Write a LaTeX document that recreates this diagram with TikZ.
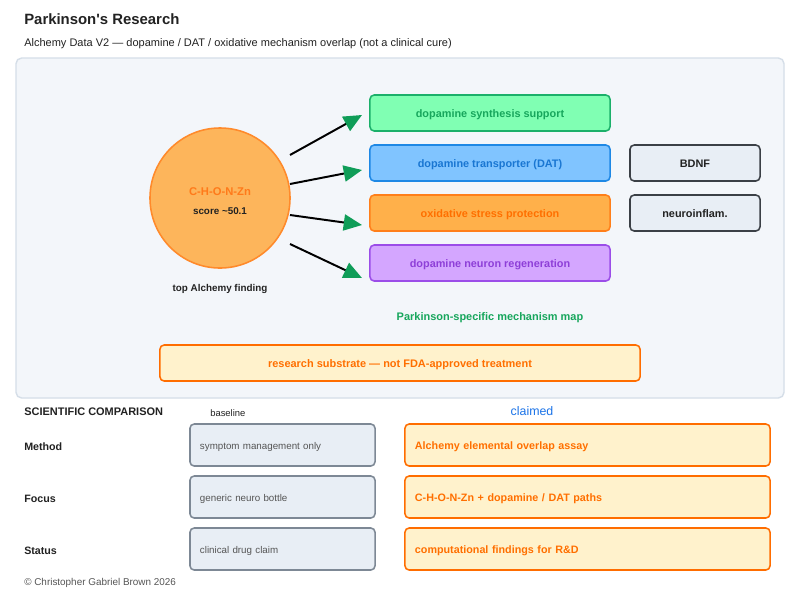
\documentclass[tikz,border=0pt]{standalone}
\usepackage{fontspec}
\setmainfont{Liberation Sans}
\usetikzlibrary{arrows.meta}

\definecolor{panelfill}{HTML}{F3F6FA}
\definecolor{paneldraw}{HTML}{D5DEE8}
\definecolor{corefill}{HTML}{FDB55B}
\definecolor{coredraw}{HTML}{FF8A2B}
\definecolor{coretext}{HTML}{FF7A1A}
\definecolor{synfill}{HTML}{80FFB3}
\definecolor{syndraw}{HTML}{1BB06A}
\definecolor{syntext}{HTML}{17A65C}
\definecolor{datfill}{HTML}{80C4FF}
\definecolor{datdraw}{HTML}{1E88E5}
\definecolor{dattext}{HTML}{1976D2}
\definecolor{oxyfill}{HTML}{FFB04A}
\definecolor{oxydraw}{HTML}{FF7F1A}
\definecolor{oxytext}{HTML}{FF6F00}
\definecolor{regfill}{HTML}{D4A6FF}
\definecolor{regdraw}{HTML}{9B4DE8}
\definecolor{regtext}{HTML}{8E3FD8}
\definecolor{sidefill}{HTML}{E8EEF5}
\definecolor{sidedraw}{HTML}{3B4046}
\definecolor{darktext}{HTML}{222222}
\definecolor{basedraw}{HTML}{7D8895}
\definecolor{basetext}{HTML}{555555}
\definecolor{warnfill}{HTML}{FFF2CC}
\definecolor{warndraw}{HTML}{FF6D00}
\definecolor{claimblue}{HTML}{1A73E8}
\definecolor{arrowgreen}{HTML}{0F9D58}

\begin{document}
\begin{tikzpicture}[x=0.025cm, y=-0.025cm,
    every node/.style={font=\fontsize{7.5}{9}\selectfont, text=darktext, text height=8pt, text depth=2pt},
    mech/.style={draw, rounded corners=3pt, line width=1.1pt, minimum width=6cm,
      minimum height=0.9cm, font=\fontsize{7.75}{9}\selectfont\bfseries},
    sidebox/.style={mech, draw=sidedraw, fill=sidefill, text=darktext, minimum width=3.25cm},
    basebox/.style={draw=basedraw, fill=sidefill, rounded corners=3pt, line width=1.1pt,
      minimum height=1.05cm, text width=4.125cm, inner xsep=0.25cm, align=left,
      text=basetext, font=\fontsize{6.95}{8}\selectfont},
    claimbox/.style={draw=warndraw, fill=warnfill, rounded corners=3pt, line width=1.1pt,
      minimum height=1.05cm, text width=8.625cm, inner xsep=0.25cm, align=left,
      text=oxytext, font=\fontsize{7.65}{9}\selectfont\bfseries},
    rowlabel/.style={anchor=west, inner sep=0pt, font=\fontsize{7.6}{9}\selectfont\bfseries},
    link/.style={line width=1.4pt, -{Triangle[length=13pt, width=11.5pt, color=arrowgreen]}}]
    % page and panel
    \fill[white] (0,0) rectangle (800,600);
    \draw[fill=panelfill, draw=paneldraw, line width=1pt, rounded corners=4pt] (16,58) rectangle (784,398);
    \node[anchor=west, inner sep=0pt, font=\fontsize{10.6}{12}\selectfont\bfseries] (title) at (24,20.5) {Parkinson\textquotesingle s Research};
    \node[anchor=west, inner sep=0pt, font=\fontsize{7.83}{9}\selectfont] (subtitle) at (24,42) {Alchemy Data V2 — dopamine / DAT / oxidative mechanism overlap (not a clinical cure)};

    % core finding
    \node[circle, draw=coredraw, fill=corefill, line width=1.1pt, minimum size=3.5cm] (core) at (220,198) {};
    \node[text=coretext, font=\fontsize{8}{9}\selectfont\bfseries] (coreel) at (220,191) {C-H-O-N-Zn};
    \node[font=\fontsize{7}{8}\selectfont\bfseries] (score) at (220,210.5) {score \textasciitilde50.1};
    \node[font=\fontsize{7}{8}\selectfont\bfseries] (toplab) at (220,287) {top Alchemy finding};

    % mechanisms
    \node[mech, draw=syndraw, fill=synfill, text=syntext] (syn) at (490,113) {dopamine synthesis support};
    \node[mech, draw=datdraw, fill=datfill, text=dattext] (dat) at (490,163) {dopamine transporter (DAT)};
    \node[mech, draw=oxydraw, fill=oxyfill, text=oxytext] (oxy) at (490,213) {oxidative stress protection};
    \node[mech, draw=regdraw, fill=regfill, text=regtext] (reg) at (490,263) {dopamine neuron regeneration};
    \node[sidebox] (bdnf) at (695,163) {BDNF};
    \node[sidebox] (inflam) at (695,213) {neuroinflam.};

    \coordinate (s1) at (290,155); \coordinate (t1) at (362,115);
    \coordinate (s2) at (290,184); \coordinate (t2) at (362,170);
    \coordinate (s3) at (290,215); \coordinate (t3) at (362,225);
    \coordinate (s4) at (290,244); \coordinate (t4) at (362,278);
    \draw[link] (s1) -- (t1);
    \draw[link] (s2) -- (t2);
    \draw[link] (s3) -- (t3);
    \draw[link] (s4) -- (t4);

    \node[text=syntext, font=\fontsize{7.8}{9}\selectfont\bfseries] (maplab) at (490,316) {Parkinson-specific mechanism map};
    \node[draw=warndraw, fill=warnfill, rounded corners=3pt, line width=1.1pt, minimum width=12cm,
      minimum height=0.9cm, text=oxytext, font=\fontsize{7.8}{9}\selectfont\bfseries] (note) at (400,363)
      {research substrate — not FDA-approved treatment};

    % comparison table
    \node[rowlabel, font=\fontsize{7.8}{9}\selectfont\bfseries] (cmp) at (24,411) {SCIENTIFIC COMPARISON};
    \node[anchor=west, inner sep=0pt, font=\fontsize{6.7}{8}\selectfont] (basehead) at (210,412) {baseline};
    \node[text=claimblue, font=\fontsize{8.8}{10}\selectfont] (claimhead) at (532,411) {claimed};

    \node[rowlabel] (method) at (24,446) {Method};
    \node[rowlabel] (focus) at (24,498) {Focus};
    \node[rowlabel] (status) at (24,550) {Status};

    \node[basebox] (b1) at (282.5,445) {symptom management only};
    \node[basebox] (b2) at (282.5,497) {generic neuro bottle};
    \node[basebox] (b3) at (282.5,549) {clinical drug claim};

    \node[claimbox] (c1) at (587.5,445) {Alchemy elemental overlap assay};
    \node[claimbox] (c2) at (587.5,497) {C-H-O-N-Zn + dopamine / DAT paths};
    \node[claimbox] (c3) at (587.5,549) {computational findings for R\&D};

    \node[anchor=west, inner sep=0pt, text=basetext, font=\fontsize{7.05}{8}\selectfont] (credit) at (24,581) {© Christopher Gabriel Brown 2026};
\end{tikzpicture}
\end{document}
